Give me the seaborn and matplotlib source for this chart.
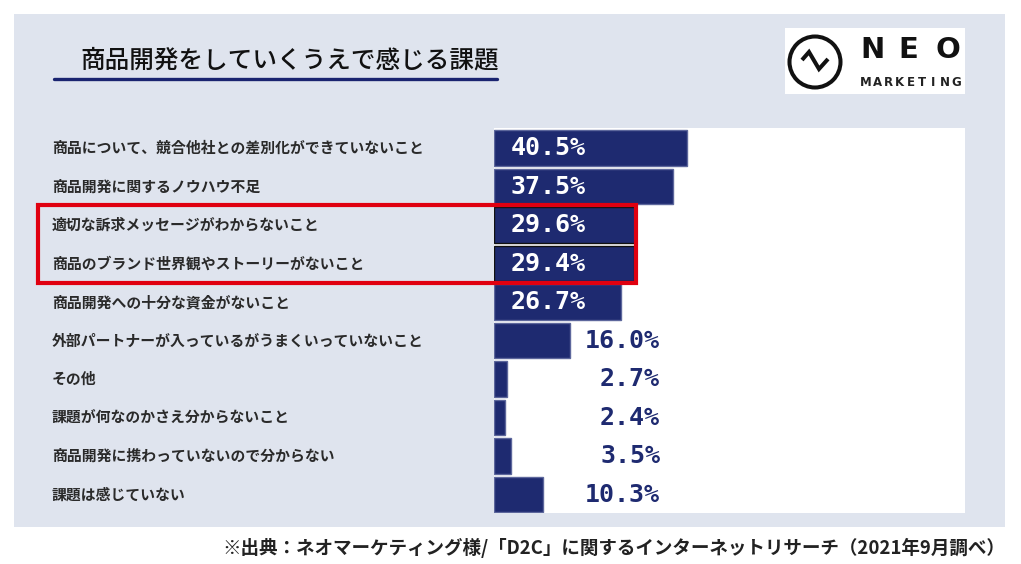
import matplotlib
matplotlib.use("Agg")
import matplotlib.pyplot as plt
import matplotlib.transforms as mtransforms
from matplotlib.patches import Rectangle, Circle
from matplotlib.lines import Line2D
import seaborn as sns
import pandas as pd

categories = [
    "商品について、競合他社との差別化ができていないこと",
    "商品開発に関するノウハウ不足",
    "適切な訴求メッセージがわからないこと",
    "商品のブランド世界観やストーリーがないこと",
    "商品開発への十分な資金がないこと",
    "外部パートナーが入っているがうまくいっていないこと",
    "その他",
    "課題が何なのかさえ分からないこと",
    "商品開発に携わっていないので分からない",
    "課題は感じていない",
]
values = [40.5, 37.5, 29.6, 29.4, 26.7, 16.0, 2.7, 2.4, 3.5, 10.3]
title = "商品開発をしていくうえで感じる課題"
source = "※出典：ネオマーケティング様/「D2C」に関するインターネットリサーチ（2021年9月調べ）"

W, H = 1021, 564
NAVY = "#1e2a70"
PANEL = "#dfe4ee"

sns.set_theme(style="white")
plt.rcParams["font.family"] = ["Noto Sans CJK JP", "DejaVu Sans"]

fig = plt.figure(figsize=(W / 100, H / 100), dpi=100)
fig.patch.set_facecolor("white")

def fx(x):
    return x / W

def fy(y):
    return 1 - y / H

# background panel
fig.patches.append(Rectangle((fx(14), fy(527)), (1005 - 14) / W, (527 - 14) / H,
                             transform=fig.transFigure, facecolor=PANEL,
                             edgecolor="none", zorder=-10))

ax = fig.add_axes([fx(494), fy(513), (965 - 494) / W, (513 - 128) / H])
ax.set_facecolor("white")

df = pd.DataFrame({"cat": categories, "val": values})
sns.barplot(data=df, x="val", y="cat", orient="h", color=NAVY, width=0.93,
            saturation=1, edgecolor="#5d679c", linewidth=1, ax=ax)
for i, p in enumerate(ax.patches):
    if i in (2, 3):
        p.set_edgecolor("#111111")

ax.set_xlim(0, 98.8)
ax.set_ylim(len(values) - 0.52, -0.52)
ax.set_xlabel("")
ax.set_ylabel("")
ax.set_xticks([])
ax.set_yticks([])
for s in ax.spines.values():
    s.set_visible(False)

# value labels
for i, v in enumerate(values):
    txt = f"{v:.1f}%"
    if v >= 20:
        ax.annotate(txt, xy=(0, i), xytext=(17, 0), textcoords="offset pixels",
                    ha="left", va="center", color="white", fontsize=18,
                    family="DejaVu Sans Mono", fontweight="bold")
    else:
        ax.annotate(txt, xy=(0, i), xytext=(166, 0), textcoords="offset pixels",
                    ha="right", va="center", color=NAVY, fontsize=18,
                    family="DejaVu Sans Mono", fontweight="bold")

# category labels
blend = mtransforms.blended_transform_factory(fig.transFigure, ax.transData)
for i, c in enumerate(categories):
    fig.text(fx(52), i, c, transform=blend, ha="left", va="center",
             fontsize=10.7, color="#2a2a2a", fontweight="bold")

# title + underline
fig.text(fx(80), fy(60), title, ha="left", va="center", fontsize=17.7,
         color="#111111", fontweight="medium")
fig.add_artist(Line2D([fx(54), fx(497)], [fy(79), fy(79)], color="#1a2470",
                      linewidth=2.4, transform=fig.transFigure))

# highlight box
fig.add_artist(Rectangle((fx(38), fy(283)), (636 - 38) / W, (283 - 205) / H,
                         transform=fig.transFigure, facecolor="none",
                         edgecolor="#e00010", linewidth=3))

# logo
logo_ax = fig.add_axes([fx(785), fy(94), (965 - 785) / W, (94 - 28) / H])
logo_ax.set_facecolor("white")
logo_ax.set_xlim(785, 965)
logo_ax.set_ylim(94, 28)
logo_ax.set_xticks([])
logo_ax.set_yticks([])
for s in logo_ax.spines.values():
    s.set_visible(False)
logo_ax.add_patch(Circle((815, 62), 25.5, facecolor="none", edgecolor="#111111", linewidth=2.9))
logo_ax.plot([802, 809, 819, 828], [60, 52, 69, 59], color="#111111", linewidth=2.9,
             solid_joinstyle="miter", solid_capstyle="butt")
for ch, x in zip("NEO", [872, 908, 948]):
    logo_ax.text(x, 50, ch, ha="center", va="center", fontsize=21,
                 fontweight="bold", color="#111111", family="DejaVu Sans")
for k, ch in enumerate("MARKETING"):
    logo_ax.text(866 + k * 11.25, 82, ch, ha="center", va="center", fontsize=8.5,
                 fontweight="bold", color="#222222", family="DejaVu Sans")

# source
fig.text(fx(1005), fy(548), source, ha="right", va="center", fontsize=13.35,
         color="#222222", fontweight="bold")

fig.savefig("out.png", dpi=100)
